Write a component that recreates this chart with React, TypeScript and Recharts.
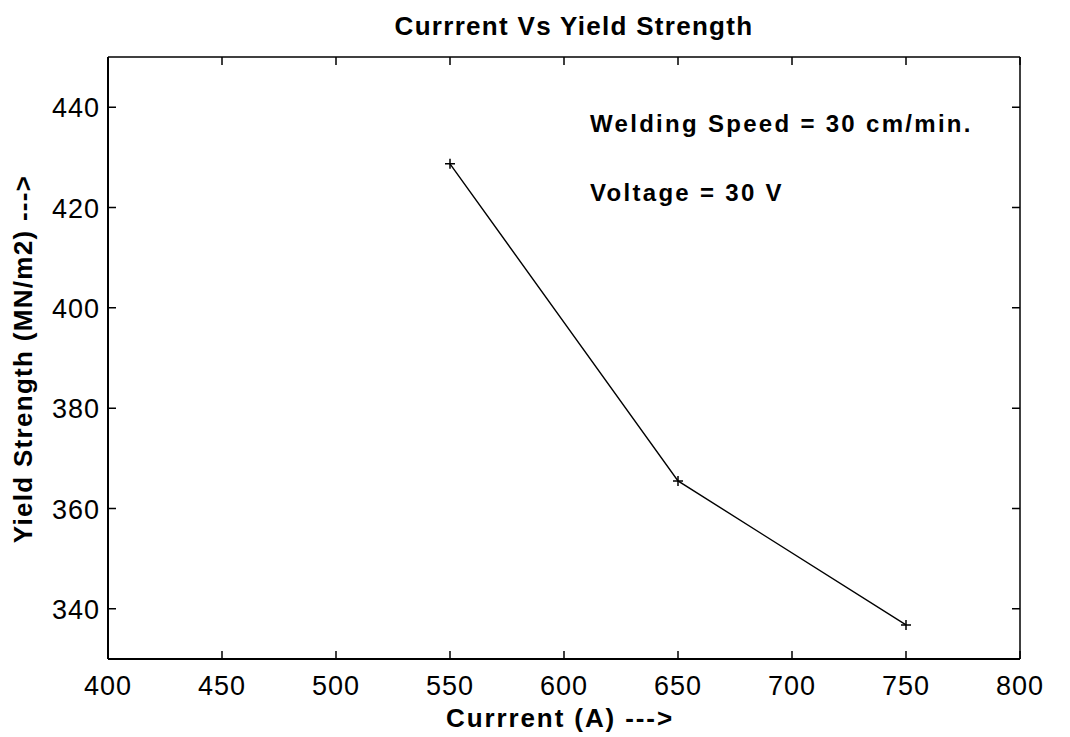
import React from 'react'
import { LineChart, Line, XAxis, YAxis, ReferenceLine, Customized } from 'recharts'

// Measured points: welding current (A) against yield strength (MN/m2)
const currents = [550, 650, 750]
const yieldStrength = [428.7, 365.5, 336.8]

const xTicks = [400, 450, 500, 550, 600, 650, 700, 750, 800]
const yTicks = [340, 360, 380, 400, 420, 440]

const data = currents.map((c, i) => ({ current: c, ys: yieldStrength[i] }))

const FONT = '"Liberation Sans", Arial, Helvetica, sans-serif'
const TICK_LEN = 8

// axis tick labels (x, y arrive offset by the default tick size + margin)
function BottomLabel({ x, y, payload }: any) {
  return (
    <text x={x} y={y + 28} textAnchor="middle" fontSize={27} letterSpacing={1} fontFamily={FONT} fill="#000">
      {payload.value}
    </text>
  )
}

function LeftLabel({ x, y, payload }: any) {
  return (
    <text x={x} y={y + 10} textAnchor="end" fontSize={27} letterSpacing={1} fontFamily={FONT} fill="#000">
      {payload.value}
    </text>
  )
}

// inward tick marks at both ends of a vertical reference line (top + bottom frame)
function XTickMarks({ x1, y1, y2 }: any) {
  const top = Math.min(y1, y2)
  const bottom = Math.max(y1, y2)
  return (
    <path
      d={`M${x1},${bottom}V${bottom - TICK_LEN}M${x1},${top}V${top + TICK_LEN}`}
      stroke="#000"
      strokeWidth={1.5}
      fill="none"
    />
  )
}

// inward tick marks at both ends of a horizontal reference line (left + right frame)
function YTickMarks({ x1, x2, y1 }: any) {
  const left = Math.min(x1, x2)
  const right = Math.max(x1, x2)
  return (
    <path
      d={`M${left},${y1}H${left + TICK_LEN}M${right},${y1}H${right - TICK_LEN}`}
      stroke="#000"
      strokeWidth={1.5}
      fill="none"
    />
  )
}

function PlusDot({ cx, cy }: any) {
  if (cx == null || cy == null) return null
  return (
    <path
      d={`M${cx - 5},${cy}H${cx + 5}M${cx},${cy - 5}V${cy + 5}`}
      stroke="#000"
      strokeWidth={1.5}
      fill="none"
    />
  )
}

function Annotations() {
  return (
    <g fontFamily={FONT} fontWeight="bold" fill="#000">
      <text x={574} y={35} textAnchor="middle" fontSize={26} letterSpacing={1.3}>
        Currrent Vs Yield Strength
      </text>
      <text x={590} y={132} fontSize={24} letterSpacing={2.3}>
        Welding Speed = 30 cm/min.
      </text>
      <text x={590} y={201} fontSize={24} letterSpacing={2.3}>
        Voltage = 30 V
      </text>
      <text x={560} y={727} textAnchor="middle" fontSize={26} letterSpacing={1.9}>
        Currrent (A) ---&gt;
      </text>
      <text
        x={23}
        y={359}
        textAnchor="middle"
        dominantBaseline="central"
        fontSize={26}
        letterSpacing={1.3}
        transform="rotate(-90 23 359)"
      >
        Yield Strength (MN/m2) ---&gt;
      </text>
    </g>
  )
}

export default function App() {
  return (
    <div style={{ position: 'absolute', left: 0, top: 0, background: '#fff' }}>
      <LineChart
        width={1070}
        height={737}
        data={data}
        margin={{ top: 57, right: 50, bottom: 28, left: 48 }}
      >
        <XAxis
          dataKey="current"
          type="number"
          domain={[400, 800]}
          ticks={xTicks}
          height={50}
          tickLine={false}
          axisLine={{ stroke: '#000', strokeWidth: 2 }}
          tick={<BottomLabel />}
          interval={0}
        />
        <YAxis
          type="number"
          domain={[330, 450]}
          ticks={yTicks}
          width={60}
          tickLine={false}
          axisLine={{ stroke: '#000', strokeWidth: 2 }}
          tick={<LeftLabel />}
          interval={0}
        />
        {/* top and right edges of the box */}
        <ReferenceLine y={450} stroke="#000" strokeWidth={1.5} />
        <ReferenceLine x={800} stroke="#000" strokeWidth={1.5} />
        {xTicks.map((v) => (
          <ReferenceLine key={`xt-${v}`} x={v} shape={<XTickMarks />} />
        ))}
        {yTicks.map((v) => (
          <ReferenceLine key={`yt-${v}`} y={v} shape={<YTickMarks />} />
        ))}
        <Line
          dataKey="ys"
          type="linear"
          stroke="#000"
          strokeWidth={1.4}
          dot={<PlusDot />}
          activeDot={false}
          isAnimationActive={false}
        />
        <Customized component={<Annotations />} />
      </LineChart>
    </div>
  )
}
